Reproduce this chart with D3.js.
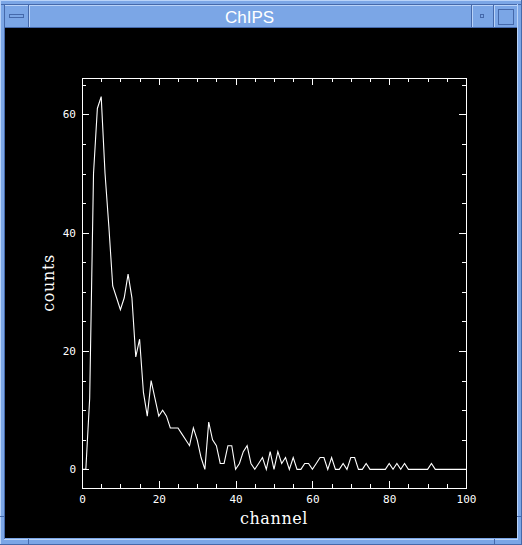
<!DOCTYPE html>
<html>
<head>
<meta charset="utf-8">
<script src="https://cdn.jsdelivr.net/npm/d3@7"></script>
<style>
  html, body { margin: 0; padding: 0; background: #000; }
  svg { display: block; }
</style>
</head>
<body>
<div id="app"></div>
<script>
// counts per channel, channel = index (0..100)
const counts = [
  0, 0, 12, 50, 61, 63, 50, 41, 31, 29,
  27, 29, 33, 29, 19, 22, 13, 9, 15, 12,
  9, 10, 9, 7, 7, 7, 6, 5, 4, 7,
  5, 2, 0, 8, 5, 4, 1, 1, 4, 4,
  0, 1, 3, 4, 1, 0, 1, 2, 0, 3,
  0, 3, 1, 2, 0, 2, 0, 0, 1, 1,
  0, 1, 2, 2, 0, 2, 0, 0, 1, 0,
  2, 2, 0, 0, 1, 0, 0, 0, 0, 0,
  1, 0, 1, 0, 1, 0, 0, 0, 0, 0,
  0, 1, 0, 0, 0, 0, 0, 0, 0, 0,
  0
];
const channels = counts.map((_, i) => i);

const xMajorTicks = [0, 20, 40, 60, 80, 100];
const xMinorTicks = [5, 10, 15, 25, 30, 35, 45, 50, 55, 65, 70, 75, 85, 90, 95];
const yMajorTicks = [0, 20, 40, 60];
const yMinorTicks = [5, 10, 15, 25, 30, 35, 45, 50, 55, 65];

const windowTitle = "ChIPS";
const xLabel = "channel";
const yLabel = "counts";

const screen = { width: 522, height: 545 };
const plot = { left: 82, right: 466, top: 78, bottom: 488 };
const frameColor = { fill: "#7ba6e6", light: "#b9d3f9", dark: "#4569ab" };

const svg = d3.select("#app")
  .append("svg")
  .attr("width", screen.width)
  .attr("height", screen.height)
  .style("color", "#fff");

// --- window chrome ---
const chrome = svg.append("g").attr("shape-rendering", "crispEdges");

chrome.append("rect")
  .attr("width", screen.width).attr("height", screen.height)
  .attr("fill", frameColor.fill);

const hLine = (x1, x2, y, c) => chrome.append("line")
  .attr("x1", x1).attr("x2", x2).attr("y1", y + 0.5).attr("y2", y + 0.5)
  .attr("stroke", c);
const vLine = (x, y1, y2, c) => chrome.append("line")
  .attr("x1", x + 0.5).attr("x2", x + 0.5).attr("y1", y1).attr("y2", y2)
  .attr("stroke", c);

// outer edges
hLine(0, 522, 0, frameColor.light);
vLine(0, 0, 545, frameColor.light);
hLine(0, 522, 544, frameColor.dark);
vLine(521, 0, 545, frameColor.dark);
hLine(1, 521, 4, frameColor.dark);
hLine(5, 517, 5, frameColor.light);
vLine(4, 4, 540, frameColor.dark);
vLine(517, 4, 540, frameColor.light);
hLine(4, 518, 539, frameColor.light);

// title bar separators
[[28, 29], [471, 472], [493, 494]].forEach(([d, l]) => {
  vLine(d, 5, 28, frameColor.dark);
  vLine(l, 5, 28, frameColor.light);
});
hLine(5, 517, 27, frameColor.dark);

// resize notches
vLine(28, 539, 545, frameColor.dark);
vLine(494, 539, 545, frameColor.dark);
hLine(0, 5, 516, frameColor.dark);
hLine(517, 522, 516, frameColor.dark);

// buttons
chrome.append("rect")
  .attr("x", 9.5).attr("y", 14.5).attr("width", 14).attr("height", 3)
  .attr("fill", frameColor.fill).attr("stroke", frameColor.dark);
chrome.append("rect")
  .attr("x", 480.5).attr("y", 14.5).attr("width", 3).attr("height", 3)
  .attr("fill", frameColor.fill).attr("stroke", frameColor.dark);
chrome.append("rect")
  .attr("x", 498.5).attr("y", 9.5).attr("width", 15).attr("height", 15)
  .attr("fill", frameColor.fill).attr("stroke", frameColor.dark);

chrome.append("text")
  .attr("x", 249.5).attr("y", 23)
  .attr("text-anchor", "middle")
  .attr("fill", "#fff")
  .style("font-family", "'Liberation Sans', Arial, sans-serif")
  .style("font-size", "17px")
  .text(windowTitle);

// client area
svg.append("rect")
  .attr("x", 5).attr("y", 28).attr("width", 512).attr("height", 510)
  .attr("fill", "#000");

// --- chart ---
const x = d3.scaleLinear().domain([0, 100]).range([plot.left, plot.right]);
const y = d3.scaleLinear().domain([-3.15, 66.15]).range([plot.bottom, plot.top]);

const chart = svg.append("g");

const styleAxis = (g, labels) => {
  g.attr("shape-rendering", "crispEdges");
  g.select(".domain").remove();
  g.selectAll("line").attr("stroke", "#fff");
  g.selectAll("text")
    .attr("fill", "#fff")
    .style("font-family", "'DejaVu Sans Mono', monospace")
    .style("font-size", "11px");
  if (!labels) g.selectAll("text").remove();
};

const majorLen = -7;
const minorLen = -4;

// bottom
chart.append("g")
  .attr("transform", `translate(0,${plot.bottom})`)
  .call(d3.axisBottom(x).tickValues(xMajorTicks).tickSize(majorLen).tickPadding(7).tickSizeOuter(0))
  .call((g) => styleAxis(g, true));
chart.append("g")
  .attr("transform", `translate(0,${plot.bottom})`)
  .call(d3.axisBottom(x).tickValues(xMinorTicks).tickSize(minorLen).tickSizeOuter(0))
  .call((g) => styleAxis(g, false));

// top
chart.append("g")
  .attr("transform", `translate(0,${plot.top})`)
  .call(d3.axisTop(x).tickValues(xMajorTicks).tickSize(majorLen).tickSizeOuter(0))
  .call((g) => styleAxis(g, false));
chart.append("g")
  .attr("transform", `translate(0,${plot.top})`)
  .call(d3.axisTop(x).tickValues(xMinorTicks).tickSize(minorLen).tickSizeOuter(0))
  .call((g) => styleAxis(g, false));

// left
chart.append("g")
  .attr("transform", `translate(${plot.left},0)`)
  .call(d3.axisLeft(y).tickValues(yMajorTicks).tickSize(majorLen).tickPadding(6).tickSizeOuter(0))
  .call((g) => styleAxis(g, true));
chart.append("g")
  .attr("transform", `translate(${plot.left},0)`)
  .call(d3.axisLeft(y).tickValues(yMinorTicks).tickSize(minorLen).tickSizeOuter(0))
  .call((g) => styleAxis(g, false));

// right
chart.append("g")
  .attr("transform", `translate(${plot.right},0)`)
  .call(d3.axisRight(y).tickValues(yMajorTicks).tickSize(majorLen).tickSizeOuter(0))
  .call((g) => styleAxis(g, false));
chart.append("g")
  .attr("transform", `translate(${plot.right},0)`)
  .call(d3.axisRight(y).tickValues(yMinorTicks).tickSize(minorLen).tickSizeOuter(0))
  .call((g) => styleAxis(g, false));

// frame
chart.append("rect")
  .attr("x", plot.left + 0.5).attr("y", plot.top + 0.5)
  .attr("width", plot.right - plot.left).attr("height", plot.bottom - plot.top)
  .attr("fill", "none")
  .attr("stroke", "#fff")
  .attr("shape-rendering", "crispEdges");

// histogram line
const line = d3.line()
  .x((d, i) => x(channels[i]))
  .y((d) => y(d));

chart.append("path")
  .datum(counts)
  .attr("d", line)
  .attr("fill", "none")
  .attr("stroke", "#fff")
  .attr("stroke-width", 1.1)
  .attr("stroke-linejoin", "miter");

// axis labels
const labelFont = (t) => t
  .attr("fill", "#fff")
  .attr("text-anchor", "middle")
  .style("font-family", "'DejaVu Serif', serif")
  .style("font-size", "16px")
  .style("letter-spacing", "0.6px");

chart.append("text")
  .attr("x", (plot.left + plot.right) / 2)
  .attr("y", 524)
  .call(labelFont)
  .text(xLabel);

chart.append("text")
  .attr("transform", `translate(54,${(plot.top + plot.bottom) / 2}) rotate(-90)`)
  .call(labelFont)
  .text(yLabel);
</script>
</body>
</html>
